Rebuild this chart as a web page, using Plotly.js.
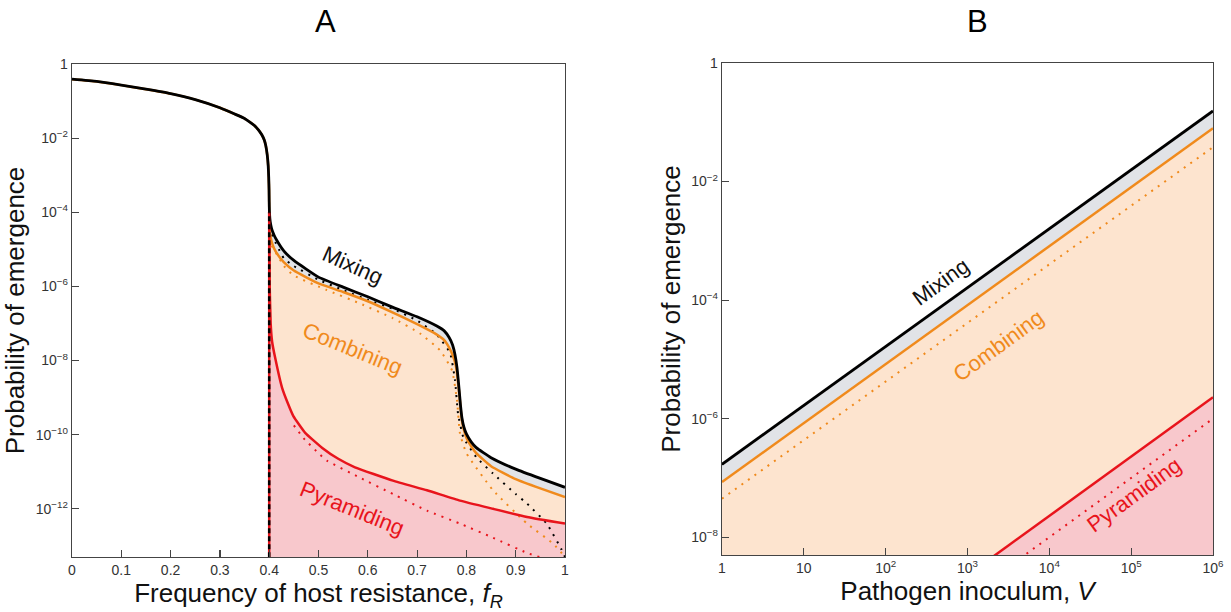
<!DOCTYPE html>
<html>
<head>
<meta charset="utf-8">
<script src="https://cdn.plot.ly/plotly-3.0.1.min.js"></script>
<style>html,body{margin:0;padding:0;background:#fff}#chart{width:1231px;height:612px}</style>
</head>
<body>
<div id="chart"></div>
<script>
// ---------- Panel A: probability of emergence vs frequency of host resistance (log10 values) ----------
var fMix = [0, 0.05, 0.1, 0.15, 0.2, 0.25, 0.3, 0.33, 0.35, 0.36, 0.37, 0.375, 0.38, 0.385, 0.39, 0.393, 0.396, 0.398, 0.399, 0.3997, 0.4, 0.4005, 0.402, 0.405, 0.41, 0.415, 0.43, 0.45, 0.5, 0.55, 0.6, 0.65, 0.7, 0.74, 0.755, 0.765, 0.772, 0.777, 0.781, 0.785, 0.788, 0.791, 0.795, 0.8, 0.81, 0.82, 0.85, 0.9, 0.95, 1.0];
var logMix = [-0.41, -0.47, -0.57, -0.68, -0.8, -0.96, -1.18, -1.35, -1.47, -1.56, -1.66, -1.73, -1.81, -1.91, -2.05, -2.2, -2.45, -2.75, -3.05, -3.4, -3.7, -4.0, -4.25, -4.45, -4.62, -4.75, -5.05, -5.3, -5.75, -6.02, -6.28, -6.56, -6.82, -7.07, -7.2, -7.38, -7.58, -7.85, -8.2, -8.75, -9.2, -9.55, -9.8, -9.98, -10.2, -10.35, -10.62, -10.93, -11.18, -11.42];

var fComb = [0, 0.05, 0.1, 0.15, 0.2, 0.25, 0.3, 0.33, 0.35, 0.36, 0.37, 0.375, 0.38, 0.385, 0.39, 0.393, 0.396, 0.398, 0.399, 0.3997, 0.4, 0.4005, 0.402, 0.405, 0.41, 0.415, 0.43, 0.45, 0.5, 0.55, 0.6, 0.65, 0.7, 0.74, 0.755, 0.765, 0.772, 0.778, 0.782, 0.786, 0.789, 0.792, 0.796, 0.8, 0.81, 0.82, 0.85, 0.9, 0.95, 1.0];
var logComb = [-0.41, -0.47, -0.57, -0.68, -0.8, -0.96, -1.18, -1.35, -1.47, -1.56, -1.66, -1.73, -1.81, -1.91, -2.05, -2.2, -2.45, -2.75, -3.05, -3.4, -3.8, -4.3, -4.6, -4.8, -4.98, -5.1, -5.35, -5.57, -5.92, -6.15, -6.4, -6.7, -7.02, -7.3, -7.45, -7.65, -7.85, -8.1, -8.45, -8.95, -9.4, -9.7, -9.92, -10.08, -10.32, -10.5, -10.85, -11.2, -11.45, -11.68];

var fMixDot = [0.405, 0.43, 0.45, 0.5, 0.55, 0.6, 0.65, 0.7, 0.74, 0.767, 0.777, 0.783, 0.794, 0.821, 0.854, 0.9, 0.923, 0.963, 0.993, 1.0];
var logMixDot = [-4.6, -5.25, -5.45, -5.82, -6.1, -6.36, -6.6, -6.92, -7.3, -7.8, -8.54, -9.43, -10.08, -10.62, -11.05, -11.6, -11.86, -12.4, -13.1, -13.3];

var fCombDot = [0.405, 0.43, 0.449, 0.517, 0.584, 0.651, 0.706, 0.747, 0.771, 0.781, 0.787, 0.8, 0.854, 0.923, 0.977, 1.0];
var logCombDot = [-4.9, -5.45, -5.7, -6.1, -6.46, -6.86, -7.27, -7.73, -8.27, -9.08, -9.97, -10.5, -11.5, -12.4, -12.95, -13.3];

var fPyr = [0.4, 0.4005, 0.401, 0.403, 0.406, 0.412, 0.426, 0.438, 0.449, 0.473, 0.507, 0.54, 0.574, 0.651, 0.72, 0.787, 0.854, 0.923, 1.0];
var logPyr = [-4.0, -5.0, -6.0, -7.0, -7.5, -7.92, -8.73, -9.16, -9.5, -9.95, -10.35, -10.65, -10.88, -11.24, -11.5, -11.78, -12.0, -12.22, -12.4];

var fPyrDot = [0.45, 0.47, 0.5, 0.517, 0.584, 0.651, 0.72, 0.787, 0.854, 0.923, 0.96];
var logPyrDot = [-9.75, -10.1, -10.5, -10.7, -11.16, -11.6, -12.05, -12.4, -12.78, -13.19, -13.35];

var fThreshold = 0.4;          // onset of resistance
var logThresholdTop = -4.0;    // top of the vertical dashed line

// ---------- Panel B: probability of emergence vs pathogen inoculum (log10 values) ----------
var inoculum = [1, 1e6];
var logMixB = [-6.77, -0.81];
var logCombB = [-7.07, -1.10];
var logCombDotB = [-7.35, -1.42];
var logPyrB = [-11.64, -5.64];
var logPyrDotB = [-12.0, -6.0];

// tick labels
var tickValsA_x = [0, 0.1, 0.2, 0.3, 0.4, 0.5, 0.6, 0.7, 0.8, 0.9, 1];
var tickTextA_x = ['0', '0.1', '0.2', '0.3', '0.4', '0.5', '0.6', '0.7', '0.8', '0.9', '1'];
var tickValsA_y = [1, 1e-2, 1e-4, 1e-6, 1e-8, 1e-10, 1e-12];
var tickTextA_y = ['1', '10<sup>\u22122</sup>', '10<sup>\u22124</sup>', '10<sup>\u22126</sup>', '10<sup>\u22128</sup>', '10<sup>\u221210</sup>', '10<sup>\u221212</sup>'];
var tickValsB_x = [1, 10, 1e2, 1e3, 1e4, 1e5, 1e6];
var tickTextB_x = ['1', '10', '10<sup>2</sup>', '10<sup>3</sup>', '10<sup>4</sup>', '10<sup>5</sup>', '10<sup>6</sup>'];
var tickValsB_y = [1, 1e-2, 1e-4, 1e-6, 1e-8];
var tickTextB_y = ['1', '10<sup>\u22122</sup>', '10<sup>\u22124</sup>', '10<sup>\u22126</sup>', '10<sup>\u22128</sup>'];

// ---------- helpers ----------
function p(a) { return a.map(function (v) { return Math.pow(10, v); }); }
function from(xs, ys, x0) {
  var X = [], Y = [];
  for (var i = 0; i < xs.length; i++) if (xs[i] >= x0) { X.push(xs[i]); Y.push(ys[i]); }
  return { x: X, y: Y };
}

var BLACK = '#000000', ORANGE = '#f08a1c', RED = '#e8141c';
var PEACH = '#fde4cf', GREY = '#e1e3e7', PINK = '#f8c8cc';
var DOTS = '2px,6px';
var SM = 0.4;

var combA = from(fComb, logComb, fThreshold);
var mixA = from(fMix, logMix, fThreshold);

var traces = [
  // Panel A fills
  { x: combA.x, y: p(combA.y), mode: 'lines', line: { width: 0, shape: 'spline', smoothing: SM }, fill: 'tozeroy', fillcolor: PEACH, xaxis: 'x', yaxis: 'y', hoverinfo: 'skip' },
  { x: mixA.x, y: p(mixA.y), mode: 'lines', line: { width: 0, shape: 'spline', smoothing: SM }, fill: 'tonexty', fillcolor: GREY, xaxis: 'x', yaxis: 'y', hoverinfo: 'skip' },
  { x: fPyr, y: p(logPyr), mode: 'lines', line: { width: 0, shape: 'spline', smoothing: SM }, fill: 'tozeroy', fillcolor: PINK, xaxis: 'x', yaxis: 'y', hoverinfo: 'skip' },
  // Panel A lines
  { x: fCombDot, y: p(logCombDot), mode: 'lines', line: { color: ORANGE, width: 2, dash: DOTS, shape: 'spline', smoothing: SM }, xaxis: 'x', yaxis: 'y' },
  { x: fMixDot, y: p(logMixDot), mode: 'lines', line: { color: BLACK, width: 2, dash: DOTS, shape: 'spline', smoothing: SM }, xaxis: 'x', yaxis: 'y' },
  { x: fPyrDot, y: p(logPyrDot), mode: 'lines', line: { color: RED, width: 2, dash: DOTS, shape: 'spline', smoothing: SM }, xaxis: 'x', yaxis: 'y' },
  { x: fPyr, y: p(logPyr), mode: 'lines', line: { color: RED, width: 2.5, shape: 'spline', smoothing: SM }, xaxis: 'x', yaxis: 'y' },
  { x: fComb, y: p(logComb), mode: 'lines', line: { color: ORANGE, width: 2.5, shape: 'spline', smoothing: SM }, xaxis: 'x', yaxis: 'y' },
  { x: fMix, y: p(logMix), mode: 'lines', line: { color: BLACK, width: 2.8, shape: 'spline', smoothing: SM }, xaxis: 'x', yaxis: 'y' },
  { x: [fThreshold, fThreshold], y: [1e-20, Math.pow(10, logThresholdTop)], mode: 'lines', line: { color: RED, width: 2.5 }, xaxis: 'x', yaxis: 'y' },
  { x: [fThreshold, fThreshold], y: [1e-20, Math.pow(10, logThresholdTop)], mode: 'lines', line: { color: BLACK, width: 2.5, dash: '5px,3px' }, xaxis: 'x', yaxis: 'y' },

  // Panel B fills
  { x: inoculum, y: p(logCombB), mode: 'lines', line: { width: 0 }, fill: 'tozeroy', fillcolor: PEACH, xaxis: 'x2', yaxis: 'y2', hoverinfo: 'skip' },
  { x: inoculum, y: p(logMixB), mode: 'lines', line: { width: 0 }, fill: 'tonexty', fillcolor: GREY, xaxis: 'x2', yaxis: 'y2', hoverinfo: 'skip' },
  { x: inoculum, y: p(logPyrB), mode: 'lines', line: { width: 0 }, fill: 'tozeroy', fillcolor: PINK, xaxis: 'x2', yaxis: 'y2', hoverinfo: 'skip' },
  // Panel B lines
  { x: inoculum, y: p(logCombDotB), mode: 'lines', line: { color: ORANGE, width: 2, dash: DOTS }, xaxis: 'x2', yaxis: 'y2' },
  { x: inoculum, y: p(logPyrDotB), mode: 'lines', line: { color: RED, width: 2, dash: DOTS }, xaxis: 'x2', yaxis: 'y2' },
  { x: inoculum, y: p(logPyrB), mode: 'lines', line: { color: RED, width: 2.5 }, xaxis: 'x2', yaxis: 'y2' },
  { x: inoculum, y: p(logCombB), mode: 'lines', line: { color: ORANGE, width: 2.5 }, xaxis: 'x2', yaxis: 'y2' },
  { x: inoculum, y: p(logMixB), mode: 'lines', line: { color: BLACK, width: 2.8 }, xaxis: 'x2', yaxis: 'y2' }
];

var FONT = 'Liberation Sans, Arial, Helvetica, sans-serif';
var tickFont = { family: FONT, size: 14, color: '#333' };
var titleFont = { family: FONT, size: 26, color: '#111' };

function axisBase() {
  return {
    showgrid: false, zeroline: false, showline: true, mirror: true,
    linecolor: '#444', linewidth: 1.3,
    ticks: 'inside', ticklen: 7, tickwidth: 1.2, tickcolor: '#444',
    tickfont: tickFont, tickmode: 'array', fixedrange: true
  };
}

var xA = Object.assign(axisBase(), {
  domain: [72 / 1231, 565 / 1231], range: [0, 1], anchor: 'y',
  tickvals: tickValsA_x, ticktext: tickTextA_x,
  title: { text: 'Frequency of host resistance, <i>f<sub>R</sub></i>', font: titleFont, standoff: 4 }
});
var yA = Object.assign(axisBase(), {
  domain: [55 / 612, 548 / 612], type: 'log', range: [-13.3, 0], anchor: 'x',
  tickvals: tickValsA_y, ticktext: tickTextA_y,
  title: { text: 'Probability of emergence', font: { family: FONT, size: 26, color: '#111' }, standoff: 3 }
});
var xB = Object.assign(axisBase(), {
  domain: [722 / 1231, 1213 / 1231], type: 'log', range: [0, 6], anchor: 'y2',
  tickvals: tickValsB_x, ticktext: tickTextB_x,
  title: { text: 'Pathogen inoculum, <i>V</i>', font: titleFont, standoff: 4 }
});
var yB = Object.assign(axisBase(), {
  domain: [57 / 612, 549 / 612], type: 'log', range: [-8.3, 0], anchor: 'x2',
  tickvals: tickValsB_y, ticktext: tickTextB_y,
  title: { text: 'Probability of emergence', font: { family: FONT, size: 26, color: '#111' }, standoff: 3 }
});

var labelFont = function (c) { return { family: FONT, size: 22, color: c }; };
var annotations = [
  { text: 'A', xref: 'paper', yref: 'paper', x: 325 / 1231, y: 1 - 22 / 612, showarrow: false, font: { family: FONT, size: 31, color: '#000' }, xanchor: 'center', yanchor: 'middle' },
  { text: 'B', xref: 'paper', yref: 'paper', x: 977 / 1231, y: 1 - 22 / 612, showarrow: false, font: { family: FONT, size: 31, color: '#000' }, xanchor: 'center', yanchor: 'middle' },
  { text: 'Mixing', xref: 'x', yref: 'y', x: 0.57, y: -5.43, textangle: 24, showarrow: false, font: labelFont('#111') },
  { text: 'Combining', xref: 'x', yref: 'y', x: 0.568, y: -7.68, textangle: 22, showarrow: false, font: labelFont(ORANGE) },
  { text: 'Pyramiding', xref: 'x', yref: 'y', x: 0.568, y: -12.0, textangle: 22, showarrow: false, font: labelFont(RED) },
  { text: 'Mixing', xref: 'x2', yref: 'y2', x: 2.68, y: -3.69, textangle: -36, showarrow: false, font: labelFont('#111') },
  { text: 'Combining', xref: 'x2', yref: 'y2', x: 3.38, y: -4.77, textangle: -36, showarrow: false, font: labelFont(ORANGE) },
  { text: 'Pyramiding', xref: 'x2', yref: 'y2', x: 5.04, y: -7.28, textangle: -36, showarrow: false, font: labelFont(RED) }
];

var layout = {
  width: 1231, height: 612,
  margin: { l: 0, r: 0, t: 0, b: 0 },
  paper_bgcolor: '#ffffff', plot_bgcolor: '#ffffff',
  showlegend: false,
  font: { family: FONT },
  xaxis: xA, yaxis: yA, xaxis2: xB, yaxis2: yB,
  annotations: annotations
};

Plotly.newPlot('chart', traces, layout, { displayModeBar: false, staticPlot: true });
</script>
</body>
</html>
